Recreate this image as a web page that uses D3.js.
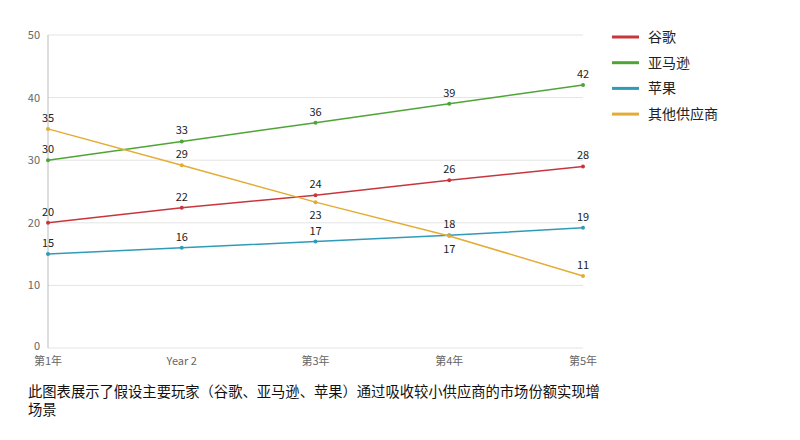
<!DOCTYPE html>
<html><head><meta charset="utf-8">
<script src="https://cdn.jsdelivr.net/npm/d3@7"></script>
<style>body{margin:0;background:#fff;font-family:"Noto Sans CJK SC","Noto Sans",sans-serif}</style>
</head><body><div id="chart"></div>
<script>
// chart data
const years = ["第1年", "Year 2", "第3年", "第4年", "第5年"];
const seriesNames = ["谷歌", "亚马逊", "苹果", "其他供应商"];
const colors = ["#c8363d", "#4ea536", "#2f9bb8", "#e3ac35"];
const google = [20, 22.4, 24.4, 26.8, 29];
const amazon = [30, 33, 36, 39, 42];
const apple = [15, 16, 17, 18, 19.2];
const others = [35, 29.2, 23.3, 17.9, 11.5];
const pointLabels = [
    [20, 22, 24, 26, 28],
    [30, 33, 36, 39, 42],
    [15, 16, 17, 18, 19],
    [35, 29, 23, 17, 11]
];
const yTicks = [0, 10, 20, 30, 40, 50];
const caption = ["此图表展示了假设主要玩家（谷歌、亚马逊、苹果）通过吸收较小供应商的市场份额实现增", "场景"];

const width = 800, height = 440;
const svg = d3.select("#chart").append("svg").attr("width", width).attr("height", height);

const x = d3.scalePoint().domain(years).range([48, 583]);
const y = d3.scaleLinear().domain([0, 50]).range([348, 35]);

// grid
svg.selectAll(".grid").data(yTicks).enter().append("line")
    .attr("x1", 48).attr("x2", 583)
    .attr("y1", d => y(d)).attr("y2", d => y(d))
    .attr("stroke", "#e4e4e4");
svg.append("line").attr("x1", 48).attr("x2", 48).attr("y1", y(50)).attr("y2", y(0)).attr("stroke", "#bbb");

svg.selectAll(".ytick").data(yTicks).enter().append("text")
    .attr("x", 40).attr("y", d => y(d) + (d === 0 ? 2 : 4)).attr("text-anchor", "end")
    .attr("font-size", 11).attr("fill", "#666").text(d => d);
svg.selectAll(".xtick").data(years).enter().append("text")
    .attr("x", d => x(d)).attr("y", 365).attr("text-anchor", "middle")
    .attr("font-size", 11).attr("fill", "#666").text(d => d);

const allSeries = [google, amazon, apple, others];
const line = d3.line().x((d, i) => x(years[i])).y(d => y(d));

allSeries.forEach((vals, s) => {
    svg.append("path").attr("d", line(vals)).attr("fill", "none")
        .attr("stroke", colors[s]).attr("stroke-width", 1.5);
    svg.selectAll(".pt" + s).data(vals).enter().append("circle")
        .attr("cx", (d, i) => x(years[i])).attr("cy", d => y(d)).attr("r", 2)
        .attr("fill", colors[s]);
    svg.selectAll(".lb" + s).data(vals).enter().append("text")
        .attr("x", (d, i) => x(years[i]))
        .attr("y", (d, i) => (s === 3 && (i === 2 || i === 3)) ? y(d) + 17 : y(d) - 7)
        .attr("text-anchor", "middle").attr("font-size", 11).attr("fill", "#222")
        .text((d, i) => pointLabels[s][i]);
});

// legend
const legend = svg.selectAll(".legend").data(seriesNames).enter().append("g")
    .attr("transform", (d, i) => `translate(612,${37 + i * 25.7})`);
legend.append("line").attr("x1", 0).attr("x2", 27).attr("stroke", (d, i) => colors[i]).attr("stroke-width", 3);
legend.append("text").attr("x", 36).attr("y", 5).attr("font-size", 14).attr("fill", "#222").text(d => d);

svg.selectAll(".cap").data(caption).enter().append("text")
    .attr("x", 28).attr("y", (d, i) => 397 + i * 18)
    .attr("font-size", 14.3).attr("fill", "#111").text(d => d);
</script></body></html>
